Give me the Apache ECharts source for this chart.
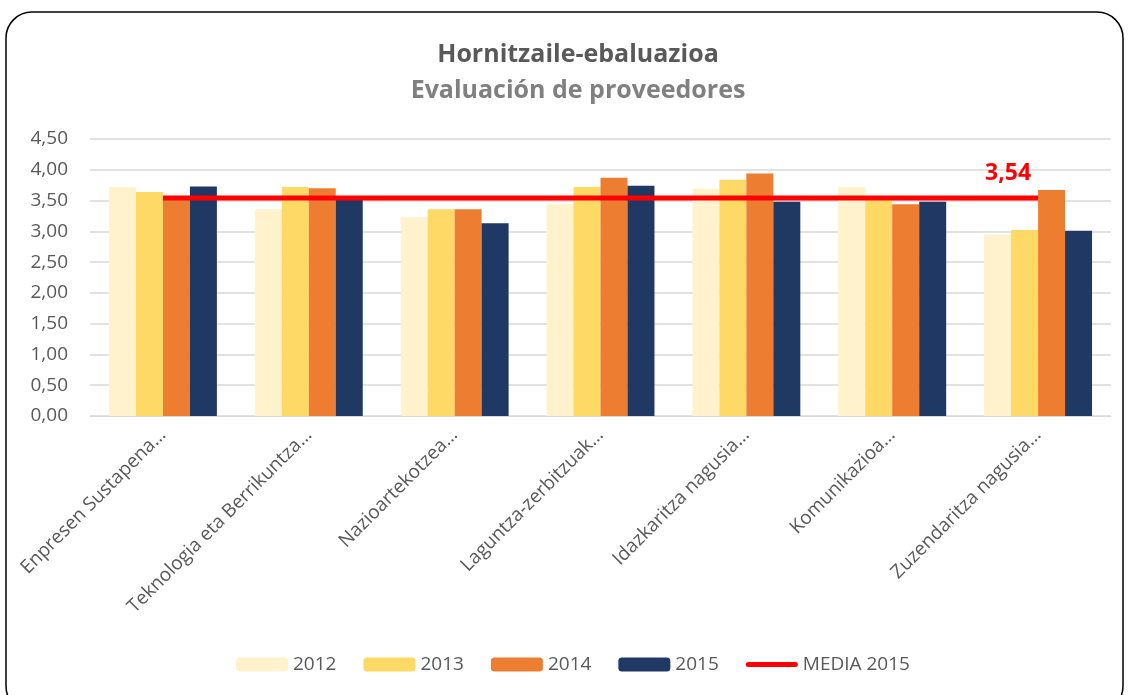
<!DOCTYPE html>
<html>
<head>
<meta charset="utf-8">
<script src="https://cdn.jsdelivr.net/npm/echarts@6/dist/echarts.min.js"></script>
<style>
  html, body { margin: 0; padding: 0; background: #fff; }
  #chart { width: 1129px; height: 695px; }
</style>
</head>
<body>
<div id="chart"></div>
<script>
const categories = ['Enpresen Sustapena…', 'Teknologia eta Berrikuntza…', 'Nazioartekotzea…',
  'Laguntza-zerbitzuak…', 'Idazkaritza nagusia…', 'Komunikazioa…', 'Zuzendaritza nagusia…'];
const years = ['2012', '2013', '2014', '2015'];
const v2012 = [3.72, 3.36, 3.23, 3.44, 3.69, 3.72, 2.95];
const v2013 = [3.64, 3.72, 3.36, 3.72, 3.84, 3.55, 3.02];
const v2014 = [3.52, 3.70, 3.36, 3.87, 3.94, 3.44, 3.67];
const v2015 = [3.73, 3.52, 3.13, 3.74, 3.48, 3.48, 3.01];
const media2015 = 3.54;
const colors = ['#FFF2CC', '#FFD966', '#ED7D31', '#203864'];

const FONT = '"Open Sans", sans-serif';
const fmt = v => v.toFixed(2).replace('.', ',');

const chart = echarts.init(document.getElementById('chart'));
const barSeries = [v2012, v2013, v2014, v2015].map((vals, i) => ({
  name: years[i],
  type: 'bar',
  data: vals,
  barGap: '0%',
  barCategoryGap: '26%',
  itemStyle: { color: colors[i] }
}));

// one value per category so the line runs from the first to the last group
const mediaData = categories.map(() => media2015);

chart.setOption({
  animation: false,
  textStyle: { fontFamily: FONT },
  title: {
    text: 'Hornitzaile-ebaluazioa',
    subtext: 'Evaluación de proveedores',
    left: 573, textAlign: 'center', top: 37, itemGap: 11,
    textStyle: { fontSize: 25, fontWeight: 'bold', color: '#595959', fontFamily: FONT },
    subtextStyle: { fontSize: 25, fontWeight: 'bold', color: '#808080', fontFamily: FONT }
  },
  graphic: [{
    type: 'rect', silent: true,
    shape: { x: 6, y: 12, width: 1117, height: 700, r: 26 },
    style: { fill: 'none', stroke: '#000', lineWidth: 1.5 }
  }],
  legend: {
    bottom: 16, left: 231, itemWidth: 52, itemHeight: 14, itemGap: 27,
    textStyle: { fontSize: 19, color: '#595959', fontFamily: FONT },
    data: years.concat([{
      name: 'MEDIA 2015',
      icon: 'path://M2.5,0 L49.5,0 A2.5,2.5 0 0 1 49.5,5 L2.5,5 A2.5,2.5 0 0 1 2.5,0 Z'
    }])
  },
  grid: { left: 90, right: 18, top: 139, bottom: 279 },
  xAxis: {
    type: 'category', data: categories,
    axisLine: { lineStyle: { color: '#d9d9d9' } },
    axisTick: { show: false },
    axisLabel: { rotate: 45, interval: 0, fontSize: 19, color: '#595959', margin: 16, fontFamily: FONT }
  },
  yAxis: {
    type: 'value', min: 0, max: 4.5, interval: 0.5,
    axisLine: { show: false }, axisTick: { show: false },
    splitLine: { lineStyle: { color: '#d9d9d9', width: 1.5 } },
    axisLabel: { formatter: fmt, fontSize: 19, color: '#595959', margin: 22, fontFamily: FONT }
  },
  series: barSeries.concat([{
    name: 'MEDIA 2015', type: 'line', data: mediaData,
    symbol: 'none', z: 5,
    lineStyle: { color: '#FF0000', width: 5 },
    itemStyle: { color: '#FF0000' },
    endLabel: {
      show: true, formatter: p => fmt(p.value), offset: [-61, -25],
      color: '#FF0000', fontWeight: 'bold', fontSize: 23, fontFamily: FONT
    }
  }])
});
</script>
</body>
</html>
